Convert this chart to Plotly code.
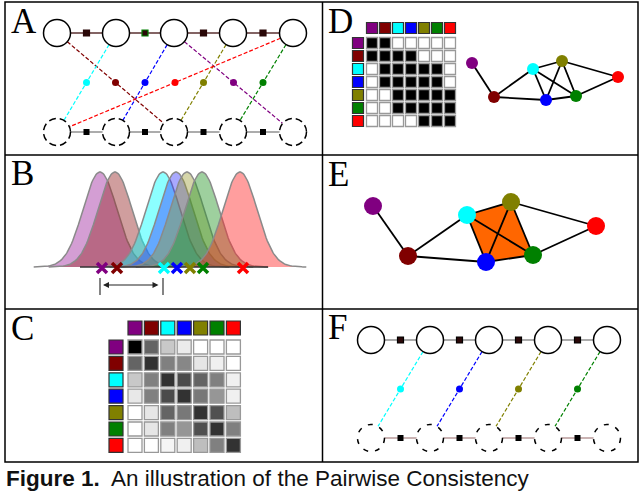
import numpy as np
import plotly.graph_objects as go

# the seven items, always in this order
item_colors = ["#800080", "#800000", "#00ffff", "#0000ff", "#808000", "#008000", "#ff0000"]
fill_colors = ["rgba(160,40,160,0.45)", "rgba(150,40,40,0.45)", "rgba(0,255,255,0.45)",
               "rgba(40,40,255,0.40)", "rgba(150,150,40,0.40)", "rgba(40,150,40,0.45)",
               "rgba(255,40,40,0.45)"]

# panel A: chain of nodes (top = solid, bottom = dashed)
chain_a_x = [57, 116, 174, 233, 293]
chain_a_top = 33
chain_a_bot = 132
# (top node, bottom node, item)
edges_a = [(0, 2, 1), (1, 0, 2), (2, 1, 3), (2, 4, 0), (3, 2, 4), (4, 0, 6), (4, 3, 5)]

# panel F
chain_f_x = [371, 430, 489, 548, 607]
chain_f_top = 340
chain_f_bot = 438
edges_f = [(1, 0, 2), (2, 1, 3), (3, 2, 4), (4, 3, 5)]

# panel B: gaussian means (px) of each item
gauss_mu = [100, 115, 163, 176, 187, 202, 240]
gauss_sigma = 17
marks_x = [102, 117, 164, 177, 190, 203, 243]

# panel C: similarity matrix as gray levels (0 black, 255 white)
sim_gray = [
    [0, 100, 200, 235, 255, 255, 255],
    [100, 50, 128, 135, 230, 240, 255],
    [200, 128, 50, 75, 100, 128, 240],
    [232, 128, 75, 50, 120, 150, 240],
    [255, 230, 100, 120, 50, 80, 190],
    [255, 230, 128, 150, 80, 50, 128],
    [255, 255, 245, 240, 190, 128, 50],
]

# panel D: thresholded matrix (1 = black)
adj_d = [
    "1100000",
    "1111000",
    "0111110",
    "0111110",
    "0011111",
    "0011111",
    "0000111",
]

# graph nodes for D and E (item order)
graph_d_x = [472, 494, 533, 546, 562, 576, 618]
graph_d_y = [63, 97, 69, 100, 61, 96, 77]
graph_e_x = [373, 408, 467, 486, 511, 533, 596]
graph_e_y = [206, 256, 215, 262, 202, 255, 226]
graph_edges = [(0, 1), (1, 2), (1, 3), (2, 4), (2, 3), (2, 5), (4, 3), (4, 5), (4, 6), (3, 5), (5, 6)]
clique = [2, 4, 5, 3]

fig = go.Figure()
shapes = []
annotations = []


def circle(cx, cy, r, dash):
    return dict(type="circle", xref="x", yref="y", x0=cx - r, x1=cx + r, y0=cy - r, y1=cy + r,
                line=dict(color="black", width=1.5, dash=dash), fillcolor="white", layer="above")


def chain(xs, top, bot, edges, top_line, bot_line, top_sq_lines, bot_dash):
    r = 13.5
    # chain lines with little squares
    for yy, col in [(top, top_line), (bot, bot_line)]:
        fig.add_trace(go.Scatter(x=[xs[0], xs[-1]], y=[yy, yy], mode="lines",
                                 line=dict(color=col, width=1.5), hoverinfo="skip"))
    mids = [(xs[i] + xs[i + 1]) / 2 for i in range(len(xs) - 1)]
    fig.add_trace(go.Scatter(x=mids, y=[top] * len(mids), mode="markers",
                             marker=dict(symbol="square", size=6, color="#2a0808",
                                         line=dict(color=top_sq_lines, width=1.2)), hoverinfo="skip"))
    fig.add_trace(go.Scatter(x=mids, y=[bot] * len(mids), mode="markers",
                             marker=dict(symbol="square", size=6, color="black"), hoverinfo="skip"))
    for t, b, k in edges:
        x0, y0, x1, y1 = xs[t], top, xs[b], bot
        L = np.hypot(x1 - x0, y1 - y0)
        ux, uy = (x1 - x0) / L, (y1 - y0) / L
        fig.add_trace(go.Scatter(x=[x0 + ux * r, x1 - ux * r], y=[y0 + uy * r, y1 - uy * r],
                                 mode="lines", line=dict(color=item_colors[k], width=1.2, dash="4px,2px"),
                                 hoverinfo="skip"))
        fig.add_trace(go.Scatter(x=[(x0 + x1) / 2], y=[(y0 + y1) / 2], mode="markers",
                                 marker=dict(size=7, color=item_colors[k]), hoverinfo="skip"))
    for cx in xs:
        shapes.append(circle(cx, top, r, "solid"))
        shapes.append(circle(cx, bot, r, bot_dash))


chain(chain_a_x, chain_a_top, chain_a_bot, edges_a, "#5a3030", "#909090",
      ["#2a0808", "#008000", "#2a0808", "#2a0808"], "7px,4px")
chain(chain_f_x, chain_f_top, chain_f_bot, edges_f, "#909090", "#b89a9a",
      ["black"] * 4, "5px,7px")

# panel B: gaussians
for mu, fc in zip(gauss_mu, fill_colors):
    gx = np.linspace(mu - 3.9 * gauss_sigma, mu + 3.9 * gauss_sigma, 120)
    gy = 267 - 95 * np.exp(-(gx - mu) ** 2 / (2 * gauss_sigma ** 2))
    fig.add_trace(go.Scatter(x=gx, y=gy, mode="lines", fill="toself", fillcolor=fc,
                             line=dict(color="#8a8a8a", width=1.5), hoverinfo="skip"))
fig.add_trace(go.Scatter(x=[80, 268], y=[267, 267], mode="lines",
                         line=dict(color="#333333", width=1.5), hoverinfo="skip"))
fig.add_trace(go.Scatter(x=marks_x, y=[268] * 7, mode="markers",
                         marker=dict(symbol="x-thin", size=10, color=item_colors,
                                     line=dict(color=item_colors, width=3.5)), hoverinfo="skip"))
for tx in [marks_x[0] - 2, marks_x[2] - 1]:
    fig.add_trace(go.Scatter(x=[tx, tx], y=[278, 295], mode="lines",
                             line=dict(color="#333333", width=1.2), hoverinfo="skip"))
annotations.append(dict(x=marks_x[0] + 1, y=285, ax=marks_x[2] - 4, ay=285, xref="x", yref="y",
                        axref="x", ayref="y", text="", showarrow=True, arrowhead=2,
                        arrowside="end+start", arrowsize=1, arrowwidth=1.2, arrowcolor="#222222"))


def matrix(cx0, cy0, pitch, size, hx, hy, cell_colors):
    n = len(item_colors)
    cols = [cx0 + i * pitch for i in range(n)]
    rows = [cy0 + i * pitch for i in range(n)]
    fig.add_trace(go.Scatter(x=cols, y=[hy] * n, mode="markers",
                             marker=dict(symbol="square", size=size, color=item_colors,
                                         line=dict(color="#333333", width=1.2)), hoverinfo="skip"))
    fig.add_trace(go.Scatter(x=[hx] * n, y=rows, mode="markers",
                             marker=dict(symbol="square", size=size, color=item_colors,
                                         line=dict(color="#333333", width=1.2)), hoverinfo="skip"))
    xs, ys, cs = [], [], []
    for i in range(n):
        for j in range(n):
            xs.append(cols[j])
            ys.append(rows[i])
            cs.append(cell_colors[i][j])
    fig.add_trace(go.Scatter(x=xs, y=ys, mode="markers",
                             marker=dict(symbol="square", size=size, color=cs,
                                         line=dict(color="#999999", width=1.3)), hoverinfo="skip"))


matrix(135, 347, 16.4, 14, 116, 328,
       [["rgb({0},{0},{0})".format(v) for v in row] for row in sim_gray])
matrix(372, 43, 13, 11, 358, 28,
       [["black" if ch == "1" else "white" for ch in row] for row in adj_d])


def graph(gx, gy, size, poly):
    if poly:
        px = [gx[k] for k in clique] + [gx[clique[0]]]
        py = [gy[k] for k in clique] + [gy[clique[0]]]
        fig.add_trace(go.Scatter(x=px, y=py, mode="lines", fill="toself", fillcolor="#ff6600",
                                 line=dict(color="#ff6600", width=0), hoverinfo="skip"))
    ex, ey = [], []
    for a, b in graph_edges:
        ex += [gx[a], gx[b], None]
        ey += [gy[a], gy[b], None]
    fig.add_trace(go.Scatter(x=ex, y=ey, mode="lines", line=dict(color="black", width=1.8),
                             hoverinfo="skip"))
    fig.add_trace(go.Scatter(x=gx, y=gy, mode="markers",
                             marker=dict(size=size, color=item_colors, line=dict(width=0)),
                             hoverinfo="skip"))


graph(graph_d_x, graph_d_y, 12, False)
graph(graph_e_x, graph_e_y, 18, True)

# panel frames
shapes.append(dict(type="rect", xref="x", yref="y", x0=5, x1=638, y0=2, y1=462,
                   line=dict(color="black", width=1.5), layer="below"))
shapes.append(dict(type="line", xref="x", yref="y", x0=322.5, x1=322.5, y0=2, y1=462,
                   line=dict(color="black", width=1.5), layer="below"))
for hy in [155, 309]:
    shapes.append(dict(type="line", xref="x", yref="y", x0=5, x1=638, y0=hy, y1=hy,
                       line=dict(color="black", width=1.5), layer="below"))

# panel letters
panel_labels = ["A", "B", "C", "D", "E", "F"]
label_pos = [(9, 21), (9, 173), (9, 328), (326, 21), (326, 174), (326, 327)]
for lab, (lx, ly) in zip(panel_labels, label_pos):
    annotations.append(dict(x=lx, y=ly, xref="x", yref="y", text=lab, showarrow=False,
                            xanchor="left", yanchor="middle",
                            font=dict(family="Liberation Serif", size=35, color="black")))

annotations.append(dict(x=4, y=478, xref="x", yref="y", showarrow=False, xanchor="left",
                        yanchor="middle",
                        text="<b>Figure 1.</b>  An illustration of the Pairwise Consistency",
                        font=dict(family="Liberation Sans", size=22.5, color="#111111")))

fig.update_layout(
    width=640, height=495, autosize=False,
    margin=dict(l=0, r=0, t=0, b=0),
    paper_bgcolor="white", plot_bgcolor="white",
    showlegend=False,
    xaxis=dict(range=[0, 640], visible=False, fixedrange=True),
    yaxis=dict(range=[495, 0], visible=False, fixedrange=True),
    shapes=shapes,
    annotations=annotations,
)

fig.write_html("out.html", config={"displayModeBar": False},
               post_script="document.body.style.margin='0';")
